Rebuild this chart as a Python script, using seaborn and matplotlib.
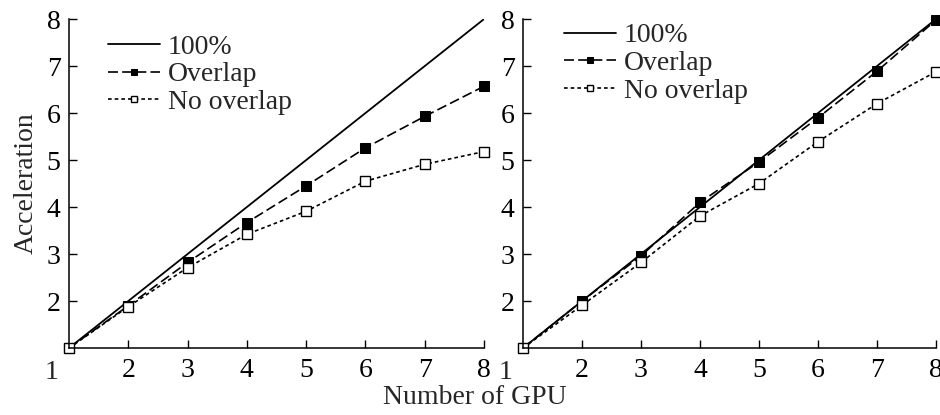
import matplotlib
matplotlib.use("Agg")
import matplotlib.pyplot as plt
import seaborn as sns
import pandas as pd

# ------ Dados ------ #
gpus = [1, 2, 3, 4, 5, 6, 7, 8]
ideal = [1, 2, 3, 4, 5, 6, 7, 8]

left_overlap = [1.0, 1.90, 2.82, 3.67, 4.45, 5.26, 5.93, 6.57]
left_no_overlap = [1.0, 1.88, 2.71, 3.42, 3.91, 4.55, 4.91, 5.18]

right_overlap = [1.0, 2.00, 2.96, 4.10, 4.96, 5.90, 6.89, 7.98]
right_no_overlap = [1.0, 1.91, 2.82, 3.81, 4.50, 5.39, 6.20, 6.88]

series_labels = ["100%", "Overlap", "No overlap"]
x_ticks = [2, 3, 4, 5, 6, 7, 8]
y_ticks = [2, 3, 4, 5, 6, 7, 8]
corner_label = "1"
x_label = "Number of GPU"
y_label = "Acceleration"

sns.set_theme(style="ticks")
plt.rcParams["font.family"] = ["Liberation Serif", "DejaVu Serif"]

FS = 20

fig = plt.figure(figsize=(9.4, 4.15), dpi=100)
ax_left = fig.add_axes([0.0734, 0.1614, 0.4415, 0.7926])
ax_right = fig.add_axes([0.5564, 0.1614, 0.4393, 0.7926])


def draw_panel(ax, overlap, no_overlap, legend_anchor):
    df = pd.DataFrame({"gpu": gpus, "ideal": ideal,
                       "overlap": overlap, "no_overlap": no_overlap})
    sns.lineplot(data=df, x="gpu", y="ideal", ax=ax, color="black",
                 linewidth=1.3, label=series_labels[0])
    sns.lineplot(data=df, x="gpu", y="overlap", ax=ax, color="black",
                 linewidth=1.2, linestyle=(0, (6, 2.5)), marker="s",
                 markersize=7.5, markerfacecolor="black",
                 markeredgecolor="black", clip_on=False,
                 label=series_labels[1])
    sns.lineplot(data=df, x="gpu", y="no_overlap", ax=ax, color="black",
                 linewidth=1.2, linestyle=(0, (2.2, 1.8)), marker="s",
                 markersize=7.5, markerfacecolor="white",
                 markeredgecolor="black", markeredgewidth=1.0,
                 clip_on=False, label=series_labels[2])

    ax.set_xlim(1, 8)
    ax.set_ylim(1, 8)
    ax.set_xticks(x_ticks)
    ax.set_yticks(y_ticks)
    ax.tick_params(direction="in", length=6, width=1, labelsize=FS,
                   colors="black")
    ax.tick_params(axis="x", pad=7)
    ax.tick_params(axis="y", pad=6)
    sns.despine(ax=ax)
    for s in ["left", "bottom"]:
        ax.spines[s].set_linewidth(1.1)
        ax.spines[s].set_color("black")
    ax.set_xlabel("")
    ax.set_ylabel("")

    # rótulo "1" no canto
    ax.annotate(corner_label, xy=(1, 1), xytext=(-17, -24),
                textcoords="offset pixels", ha="center", va="center",
                fontsize=FS, annotation_clip=False)

    leg = ax.legend(loc="upper left", bbox_to_anchor=legend_anchor,
                    frameon=False, fontsize=FS, handlelength=1.85,
                    handletextpad=0.3, labelspacing=0.08,
                    borderaxespad=0.0, markerscale=0.65)
    return leg


draw_panel(ax_left, left_overlap, left_no_overlap, (0.068, 0.988))
draw_panel(ax_right, right_overlap, right_no_overlap, (0.073, 1.022))

ax_left.set_ylabel(y_label, fontsize=FS, labelpad=6)
fig.text(0.505, 0.043, x_label, ha="center", va="center", fontsize=FS)

fig.savefig("out.png", dpi=100)
